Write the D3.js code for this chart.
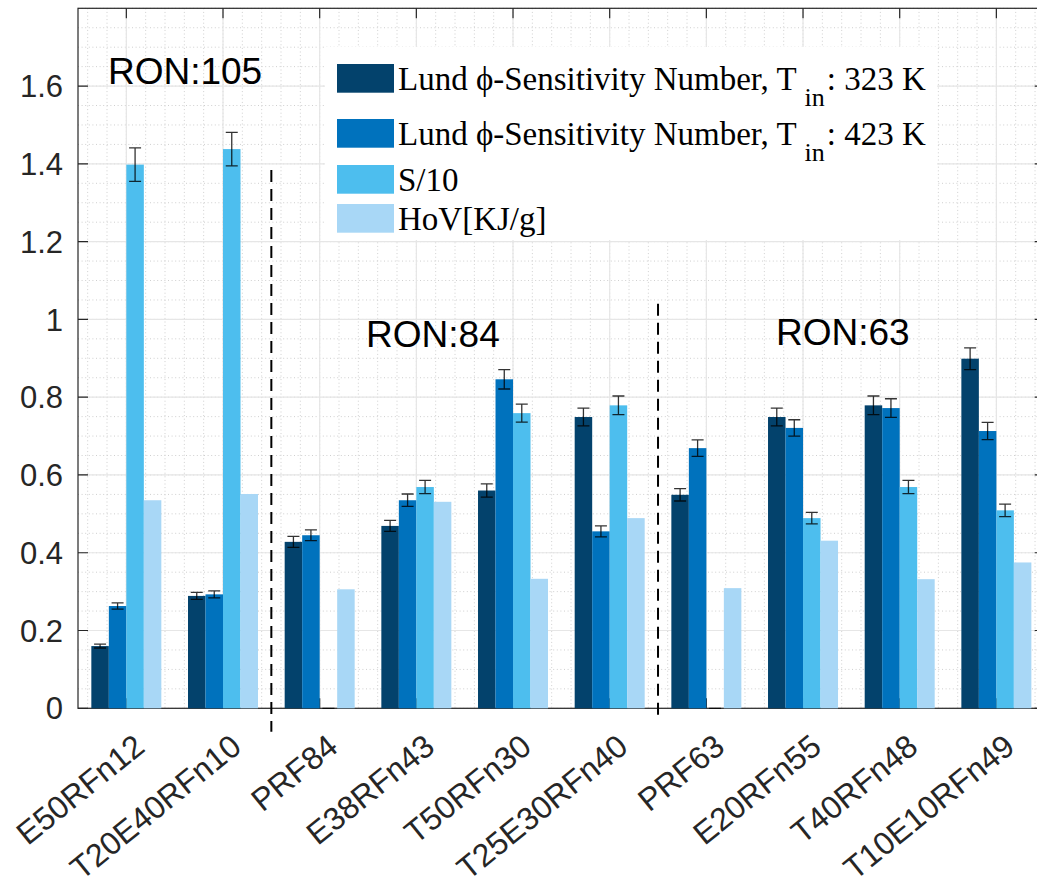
<!DOCTYPE html>
<html>
<head>
<meta charset="utf-8">
<script src="https://cdn.jsdelivr.net/npm/d3@7"></script>
<style>
    body { margin: 0; background: #fff; }
    svg { display: block; }
    .tick-label { font-family: 'Liberation Sans', Arial, sans-serif; fill: #262626; }
    .legend-text { font-family: 'Liberation Serif', 'Times New Roman', serif; fill: #000; }
</style>
</head>
<body>
<svg id="chart" width="1037" height="886"></svg>
<script>
var categories = ['E50RFn12', 'T20E40RFn10', 'PRF84', 'E38RFn43', 'T50RFn30', 'T25E30RFn40',
    'PRF63', 'E20RFn55', 'T40RFn48', 'T10E10RFn49'];

var seriesNames = ['Lund ϕ-Sensitivity Number, T', 'Lund ϕ-Sensitivity Number, T', 'S/10', 'HoV[KJ/g]'];
var seriesSub = [': 323 K', ': 423 K', null, null];
var seriesColors = ['#03426c', '#0072bd', '#4dbeee', '#a8d7f6'];

var lund323 = [0.160, 0.289, 0.428, 0.469, 0.560, 0.749, 0.549, 0.749, 0.779, 0.899];
var lund423 = [0.263, 0.293, 0.445, 0.535, 0.846, 0.455, 0.669, 0.721, 0.772, 0.713];
var s10 = [1.398, 1.438, 0, 0.569, 0.759, 0.779, 0, 0.489, 0.569, 0.509];
var hov = [0.535, 0.551, 0.306, 0.531, 0.333, 0.489, 0.309, 0.431, 0.332, 0.375];

var lund323Err = [0.005, 0.009, 0.014, 0.014, 0.017, 0.023, 0.016, 0.023, 0.024, 0.028];
var lund423Err = [0.008, 0.009, 0.014, 0.016, 0.025, 0.014, 0.021, 0.021, 0.024, 0.022];
var s10Err = [0.043, 0.043, 0, 0.017, 0.023, 0.024, 0, 0.015, 0.017, 0.016];

var yTicks = [0, 0.2, 0.4, 0.6, 0.8, 1, 1.2, 1.4, 1.6];
var dividers = [{ x: 2.5, y0: -0.06, y1: 1.384 }, { x: 6.5, y0: -0.03, y1: 1.04 }];
var ronLabels = [{ text: 'RON:105', x: 0.81, y: 1.605 }, { text: 'RON:84', x: 3.48, y: 0.93 }, { text: 'RON:63', x: 7.72, y: 0.934 }];

var allValues = [lund323, lund423, s10, hov];
var allErrors = [lund323Err, lund423Err, s10Err, null];

var plotLeft = 78, plotTop = 8.3, plotBottom = 708.3, plotRight = 1044.7;

var svg = d3.select('#chart');

var x = d3.scaleLinear().domain([0.5, 10.5]).range([plotLeft, plotRight]);
var y = d3.scaleLinear().domain([0, 1.8]).range([plotBottom, plotTop]);
var xInner = d3.scaleBand().domain([0, 1, 2, 3]).range([-35, 35]);

var gridG = svg.append('g');

// minor grid
gridG.selectAll('.ygm')
    .data(d3.range(0, 1.8001, 0.05))
    .enter().append('line')
    .attr('x1', plotLeft).attr('x2', plotRight)
    .attr('y1', function(d) { return y(d); })
    .attr('y2', function(d) { return y(d); })
    .attr('stroke', '#cfcfcf').attr('stroke-dasharray', '1,2.6');

gridG.selectAll('.xgm')
    .data(d3.range(0.6, 10.5, 0.2))
    .enter().append('line')
    .attr('y1', plotTop).attr('y2', plotBottom)
    .attr('x1', function(d) { return x(d); })
    .attr('x2', function(d) { return x(d); })
    .attr('stroke', '#cfcfcf').attr('stroke-dasharray', '1,2.6');

// major grid
gridG.selectAll('.ygM')
    .data(yTicks)
    .enter().append('line')
    .attr('x1', plotLeft).attr('x2', plotRight)
    .attr('y1', function(d) { return y(d); })
    .attr('y2', function(d) { return y(d); })
    .attr('stroke', '#e6e6e6').attr('stroke-width', 1.2);

gridG.selectAll('.xgM')
    .data(categories)
    .enter().append('line')
    .attr('y1', plotTop).attr('y2', plotBottom)
    .attr('x1', function(d, i) { return x(i + 1); })
    .attr('x2', function(d, i) { return x(i + 1); })
    .attr('stroke', '#e6e6e6').attr('stroke-width', 1.2);

// axis box and ticks
var axisG = svg.append('g').attr('stroke', '#262626').attr('stroke-width', 1.2);
axisG.append('rect')
    .attr('x', plotLeft).attr('y', plotTop)
    .attr('width', plotRight - plotLeft).attr('height', plotBottom - plotTop)
    .attr('fill', 'none');

axisG.selectAll('.yt')
    .data(yTicks)
    .enter().append('path')
    .attr('d', function(d) { return 'M' + plotLeft + ',' + y(d) + 'h10M' + plotRight + ',' + y(d) + 'h-10'; });

axisG.selectAll('.xt')
    .data(categories)
    .enter().append('path')
    .attr('d', function(d, i) { return 'M' + x(i + 1) + ',' + plotTop + 'v10M' + x(i + 1) + ',' + plotBottom + 'v-10'; });

// bars
var barsG = svg.append('g');
allValues.forEach(function(vals, s) {
    barsG.selectAll('.bar-' + s)
        .data(vals)
        .enter().append('rect')
        .attr('class', 'bar-' + s)
        .attr('x', function(d, i) { return x(i + 1) + xInner(s); })
        .attr('width', xInner.bandwidth())
        .attr('y', function(d) { return y(d); })
        .attr('height', function(d) { return y(0) - y(d); })
        .attr('fill', seriesColors[s]);
});

// error bars
var errG = svg.append('g').attr('stroke', '#000').attr('stroke-opacity', 0.8).attr('stroke-width', 1.3);
allValues.forEach(function(vals, s) {
    if (!allErrors[s]) return;
    var errs = allErrors[s];
    errG.selectAll('.err-' + s)
        .data(vals)
        .enter().append('path')
        .attr('fill', 'none')
        .attr('d', function(d, i) {
            var cx = x(i + 1) + xInner(s) + xInner.bandwidth() / 2;
            var hi = y(d + errs[i]), lo = y(d - errs[i]);
            return 'M' + (cx - 6) + ',' + hi + 'h12M' + cx + ',' + hi + 'V' + lo + 'M' + (cx - 6) + ',' + lo + 'h12';
        });
});

// group dividers
svg.selectAll('.divider')
    .data(dividers)
    .enter().append('line')
    .attr('x1', function(d) { return x(d.x); })
    .attr('x2', function(d) { return x(d.x); })
    .attr('y1', function(d) { return y(d.y1); })
    .attr('y2', function(d) { return y(d.y0); })
    .attr('stroke', '#000').attr('stroke-width', 2)
    .attr('stroke-dasharray', '12,7');

// y tick labels
svg.selectAll('.ylab')
    .data(yTicks)
    .enter().append('text')
    .attr('class', 'tick-label')
    .attr('x', 63)
    .attr('y', function(d) { return y(d); })
    .attr('dy', '0.36em')
    .attr('text-anchor', 'end')
    .style('font-size', '31px')
    .text(function(d) { return d3.format('~g')(d); });

// x tick labels
svg.selectAll('.xlab')
    .data(categories)
    .enter().append('text')
    .attr('class', 'tick-label')
    .attr('text-anchor', 'end')
    .attr('dy', '0.36em')
    .attr('transform', function(d, i) { return 'translate(' + (x(i + 1) + 13) + ',741) rotate(-39)'; })
    .style('font-size', '32px')
    .text(function(d) { return d; });

// RON annotations
svg.selectAll('.ron')
    .data(ronLabels)
    .enter().append('text')
    .attr('x', function(d) { return x(d.x); })
    .attr('y', function(d) { return y(d.y); })
    .style('font-family', "'Liberation Sans', Arial, sans-serif")
    .style('font-size', '37px')
    .attr('fill', '#000')
    .text(function(d) { return d.text; });

// legend
var legend = svg.append('g');
legend.append('rect')
    .attr('x', 325).attr('y', 47)
    .attr('width', 612).attr('height', 193)
    .attr('fill', '#fff');

var legendRows = [64, 119, 165, 204];
var legendItems = legend.selectAll('.legend-item')
    .data(seriesNames)
    .enter().append('g')
    .attr('transform', function(d, i) { return 'translate(337,' + legendRows[i] + ')'; });

legendItems.append('rect')
    .attr('width', 57).attr('height', 28.7)
    .attr('fill', function(d, i) { return seriesColors[i]; });

var legendText = legendItems.append('text')
    .attr('class', 'legend-text')
    .attr('x', 61)
    .attr('y', 25.5)
    .style('font-size', '33px')
    .text(function(d) { return d; });

legendText.filter(function(d, i) { return seriesSub[i]; })
    .each(function(d, i) {
        var t = d3.select(this);
        t.append('tspan').attr('dx', 8).attr('dy', 16.6).style('font-size', '26px').text('in');
        t.append('tspan').attr('dx', 2).attr('dy', -16.6).text(seriesSub[i]);
    });
</script>
</body>
</html>
